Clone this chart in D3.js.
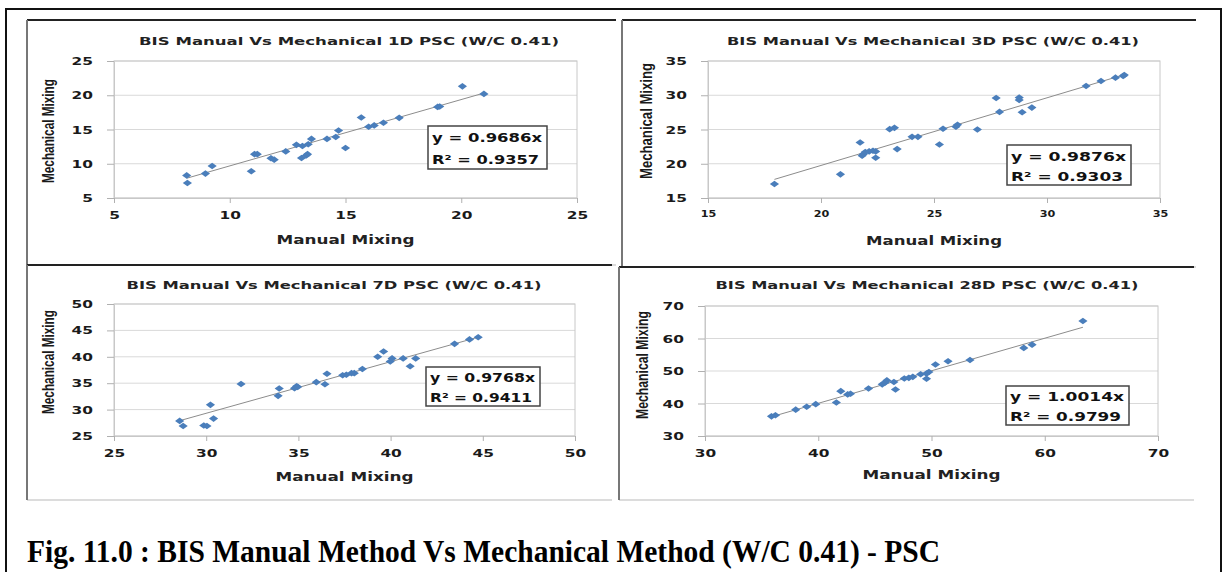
<!DOCTYPE html>
<html>
<head>
<meta charset="utf-8">
<script src="https://cdn.jsdelivr.net/npm/d3@7"></script>
<style>
    body { margin: 0; background: #fff; }
    svg { display: block; }
</style>
</head>
<body>
<div id="chart"></div>
<script>

// ---- values ----
const titles = [
    "BIS Manual Vs Mechanical 1D PSC (W/C 0.41)",
    "BIS Manual Vs Mechanical 3D PSC (W/C 0.41)",
    "BIS Manual Vs Mechanical 7D PSC (W/C 0.41)",
    "BIS Manual Vs Mechanical 28D PSC (W/C 0.41)"
];
const slopes = [0.9686, 0.9876, 0.9768, 1.0014];
const rSquared = [0.9357, 0.9303, 0.9411, 0.9799];

const xTicks = [[5, 10, 15, 20, 25], [15, 20, 25, 30, 35], [25, 30, 35, 40, 45, 50], [30, 40, 50, 60, 70]];
const yTicks = [[5, 10, 15, 20, 25], [15, 20, 25, 30, 35], [25, 30, 35, 40, 45, 50], [30, 40, 50, 60, 70]];

const manual1D = [8.14, 8.17, 8.95, 9.24, 10.93, 11.07, 11.19, 11.78, 11.92, 12.42, 12.88, 13.14, 13.1, 13.3, 13.36,
    13.39, 13.53, 14.2, 14.58, 14.7, 15.0, 15.68, 16.0, 16.24, 16.64, 17.32, 18.98, 19.07, 20.05, 20.98];
const mech1D = [8.3, 7.2, 8.56, 9.68, 8.9, 11.4, 11.4, 10.8, 10.6, 11.8, 12.76, 12.6, 10.85, 11.2, 11.4,
    12.85, 13.63, 13.63, 13.9, 14.85, 12.3, 16.75, 15.4, 15.6, 15.98, 16.7, 18.3, 18.36, 21.3, 20.2];

const manual3D = [17.94, 20.86, 21.73, 21.82, 21.87, 21.96, 22.13, 22.3, 22.42, 22.42, 23.04, 23.25, 23.37, 24.03, 24.29,
    25.24, 25.4, 25.97, 26.04, 26.92, 27.75, 27.9, 28.77, 28.77, 28.9, 29.33, 31.73, 32.39, 33.03, 33.37, 33.42];
const mech3D = [17.04, 18.45, 23.1, 21.17, 21.4, 21.7, 21.8, 21.9, 21.8, 20.87, 25.05, 25.24, 22.14, 23.93, 23.93,
    22.8, 25.1, 25.4, 25.7, 25.0, 29.6, 27.57, 29.66, 29.3, 27.52, 28.2, 31.36, 32.09, 32.57, 32.8, 32.96];

const manual7D = [28.56, 28.75, 29.87, 30.04, 30.23, 30.4, 31.89, 33.9, 33.96, 34.79, 34.9, 34.96, 35.97, 36.44, 36.55,
    37.4, 37.6, 37.88, 38.03, 38.47, 39.3, 39.62, 39.98, 40.08, 40.68, 41.06, 41.36, 43.47, 44.28, 44.75];
const mech7D = [27.86, 26.9, 27.0, 26.9, 30.9, 28.3, 34.85, 32.6, 34.0, 34.05, 34.4, 34.3, 35.2, 34.8, 36.8,
    36.5, 36.6, 36.9, 36.9, 37.7, 40.0, 41.0, 39.1, 39.7, 39.7, 38.2, 39.7, 42.45, 43.3, 43.7];

const manual28D = [35.87, 36.22, 38.01, 38.98, 39.78, 41.6, 41.99, 42.6, 42.85, 44.44, 45.65, 45.89, 46.06, 46.68,
    46.82, 47.6, 48.0, 48.35, 49.04, 49.56, 49.56, 49.77, 50.35, 51.46, 53.4, 58.15, 58.88, 63.37];
const mech28D = [36.05, 36.4, 38.1, 39.0, 39.8, 40.3, 43.8, 42.8, 43.0, 44.6, 45.9, 46.4, 47.1, 46.6,
    44.3, 47.7, 47.9, 48.2, 49.0, 49.2, 47.6, 49.7, 52.0, 53.0, 53.4, 57.1, 58.1, 65.4];

const manualSets = [manual1D, manual3D, manual7D, manual28D];
const mechSets = [mech1D, mech3D, mech7D, mech28D];

const xLabel = "Manual Mixing";
const yLabel = "Mechanical Mixing";
const caption = "Fig. 11.0 : BIS Manual Method Vs Mechanical Method (W/C 0.41) - PSC";

// ---- page layout ----
const W = 1228, H = 572;
const font = "'DejaVu Sans', Verdana, sans-serif";
const blue = "#4a7ebb";
const stretch = 1.4;   // the source picture is widened, text too

const layout = [
    {frame: [27, 20, 616, 265], plot: [114, 61, 577, 198], titleX: 349, titleY: 41, titleW: 420,
        xlY: 239, xlW: 138, ylX: 48, ylY: 131, ylL: 104, box: [428, 126, 547, 169], xTickSize: 11},
    {frame: [622, 20, 1196, 267], plot: [708, 61, 1160, 198], titleX: 933, titleY: 41, titleW: 412,
        xlY: 240, xlW: 136, ylX: 646, ylY: 121, ylL: 116, box: [1007, 145, 1131, 185], xTickSize: 8},
    {frame: [27, 265, 612, 500], plot: [114, 304, 575, 436], titleX: 334, titleY: 285, titleW: 415,
        xlY: 476, xlW: 138, ylX: 48, ylY: 362, ylL: 104, box: [426, 367, 540, 406], xTickSize: 11},
    {frame: [619, 267, 1194, 500], plot: [705, 306, 1158, 436], titleX: 927, titleY: 285, titleW: 423,
        xlY: 474, xlW: 138, ylX: 642, ylY: 365, ylL: 108, box: [1006, 386, 1129, 425], xTickSize: 11}
];

const svg = d3.select("#chart").append("svg")
    .attr("width", W)
    .attr("height", H);

svg.append("rect").attr("width", W).attr("height", H).attr("fill", "#fff");

// outer black frame (no bottom edge visible)
svg.append("path")
    .attr("d", "M6,572 L6,9 L1221,9 L1221,572")
    .attr("fill", "none")
    .attr("stroke", "#111")
    .attr("stroke-width", 2);

function drawPanel(i) {
    const L = layout[i];
    const [fx0, fy0, fx1, fy1] = L.frame;
    const [px0, py0, px1, py1] = L.plot;
    const g = svg.append("g").attr("class", "panel");

    // chart frame: dark top, grey left, light bottom
    g.append("line").attr("x1", fx0).attr("x2", fx1).attr("y1", fy1).attr("y2", fy1)
        .attr("stroke", "#d0d0d0").attr("stroke-width", 1.5);
    g.append("line").attr("x1", fx0).attr("x2", fx1).attr("y1", fy0).attr("y2", fy0)
        .attr("stroke", "#222").attr("stroke-width", 2);
    g.append("line").attr("x1", fx0).attr("x2", fx0).attr("y1", fy0).attr("y2", fy1)
        .attr("stroke", "#777").attr("stroke-width", 2);

    const x = d3.scaleLinear()
        .domain(d3.extent(xTicks[i]))
        .range([px0, px1]);
    const y = d3.scaleLinear()
        .domain(d3.extent(yTicks[i]))
        .range([py1, py0]);

    // gridlines
    g.selectAll(".grid")
        .data(yTicks[i])
        .enter().append("line")
        .attr("x1", px0).attr("x2", px1)
        .attr("y1", d => y(d)).attr("y2", d => y(d))
        .attr("stroke", "#d9d9d9").attr("stroke-width", 1);

    // plot border
    g.append("rect")
        .attr("x", px0).attr("y", py0)
        .attr("width", px1 - px0).attr("height", py1 - py0)
        .attr("fill", "none")
        .attr("stroke", "#c8c8c8");

    // axes
    const yAxis = d3.axisLeft(y).tickValues(yTicks[i]).tickSize(7).tickSizeOuter(0).tickPadding(14);
    const xAxis = d3.axisBottom(x).tickValues(xTicks[i]).tickSize(5).tickSizeOuter(0).tickPadding(8);

    const gy = g.append("g").attr("transform", `translate(${px0},0)`).call(yAxis);
    const gx = g.append("g").attr("transform", `translate(0,${py1})`).call(xAxis);

    [gx, gy].forEach(a => {
        a.select(".domain").attr("stroke", "#c8c8c8");
        a.selectAll(".tick line").attr("stroke", "#b0b0b0");
        a.selectAll("text")
            .attr("fill", "#1a1a1a")
            .style("font-family", font)
            .style("font-weight", 700);
    });
    gy.selectAll("text")
        .style("font-size", "11px")
        .attr("x", -21 / stretch)
        .attr("transform", `scale(${stretch},1)`);
    gx.selectAll("text")
        .style("font-size", L.xTickSize + "px")
        .attr("transform", `scale(${stretch},1)`);

    // title
    g.append("text")
        .attr("x", L.titleX - L.titleW / 2).attr("y", L.titleY)
        .attr("dy", "0.36em")
        .attr("textLength", L.titleW)
        .attr("lengthAdjust", "spacingAndGlyphs")
        .style("font-family", font).style("font-weight", 700).style("font-size", "10.5px")
        .attr("fill", "#222")
        .text(titles[i]);

    // axis titles
    g.append("text")
        .attr("x", (px0 + px1) / 2 - L.xlW / 2).attr("y", L.xlY)
        .attr("dy", "0.36em")
        .attr("textLength", L.xlW)
        .attr("lengthAdjust", "spacingAndGlyphs")
        .style("font-family", font).style("font-weight", 700).style("font-size", "12.5px")
        .attr("fill", "#222")
        .text(xLabel);

    g.append("text")
        .attr("transform", `translate(${L.ylX},${L.ylY + L.ylL / 2}) rotate(-90)`)
        .attr("dy", "0.36em")
        .attr("textLength", L.ylL)
        .attr("lengthAdjust", "spacingAndGlyphs")
        .style("font-family", "'Liberation Sans Narrow', 'Liberation Sans', sans-serif")
        .style("font-weight", 700).style("font-size", "17px")
        .attr("fill", "#1a1a1a")
        .text(yLabel);

    // points
    const pts = manualSets[i].map((m, k) => ({m: m, c: mechSets[i][k]}));

    // trendline through origin, over the data range
    const xr = d3.extent(pts, d => d.m);
    g.append("line")
        .attr("x1", x(xr[0])).attr("y1", y(slopes[i] * xr[0]))
        .attr("x2", x(xr[1])).attr("y2", y(slopes[i] * xr[1]))
        .attr("stroke", "#8c8c8c").attr("stroke-width", 1);

    g.selectAll(".pt")
        .data(pts)
        .enter().append("path")
        .attr("class", "pt")
        .attr("transform", d => `translate(${x(d.m)},${y(d.c)})`)
        .attr("d", "M0,-3.3L4.6,0L0,3.3L-4.6,0Z")
        .attr("fill", blue);

    // equation box
    const [bx0, by0, bx1, by1] = L.box;
    g.append("rect")
        .attr("x", bx0).attr("y", by0)
        .attr("width", bx1 - bx0).attr("height", by1 - by0)
        .attr("fill", "#fff")
        .attr("stroke", "#444").attr("stroke-width", 1.5);

    const eq = ["y = " + slopes[i].toFixed(4) + "x", "R\u00b2 = " + rSquared[i].toFixed(4)];
    const lh = (by1 - by0) / 2;
    eq.forEach((t, k) => {
        g.append("text")
            .attr("x", bx0 + 4).attr("y", by0 + lh * (k + 0.5) + 1)
            .attr("dy", "0.36em")
            .attr("textLength", (bx1 - bx0) - 9 - (k === 1 ? 3 : 0))
            .attr("lengthAdjust", "spacingAndGlyphs")
            .style("font-family", font).style("font-weight", 700).style("font-size", "12.5px")
            .attr("fill", "#111")
            .text(t);
    });
}

for (let i = 0; i < 4; i++) drawPanel(i);

// figure caption
svg.append("text")
    .attr("x", 27).attr("y", 562)
    .attr("textLength", 913)
    .attr("lengthAdjust", "spacingAndGlyphs")
    .style("font-family", "'Liberation Serif', 'Times New Roman', serif")
    .style("font-weight", 700).style("font-size", "32px")
    .attr("fill", "#000")
    .text(caption);

</script>
</body>
</html>
